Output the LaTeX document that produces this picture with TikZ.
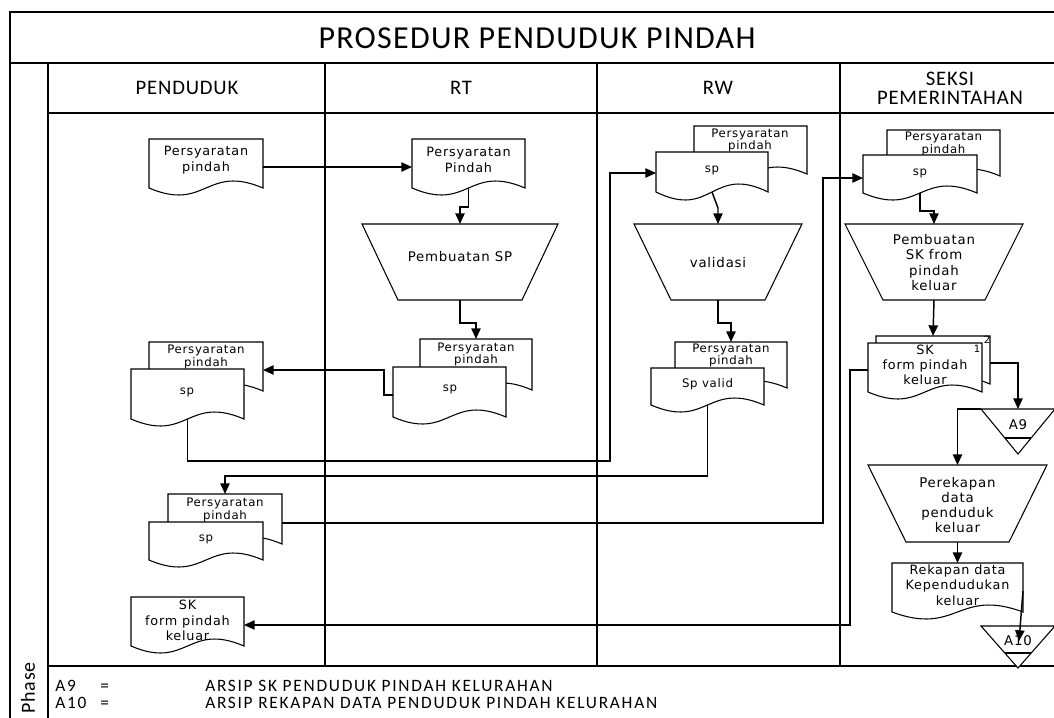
\documentclass[tikz,border=0pt]{standalone}
\usepackage{fontspec}
\setmainfont{Carlito}
\newfontfamily\docfont[LetterSpace=6]{DejaVu Sans}
\newfontfamily\hdrfont[LetterSpace=4]{Carlito}
\newfontfamily\legfont[LetterSpace=10]{Carlito}
\usetikzlibrary{arrows.meta,calc}

% document symbol: name, left, top, right, wave baseline, wave amplitude
\newcommand\docbox[6]{%
  \path[shapeline] (#2,#5) -- (#2,#3) -- (#4,#3) -- (#4,#5)
    .. controls ({(#2+#4)/2},{#5-3.46*#6}) and ({(#2+#4)/2},{#5+3.46*#6}) .. (#2,#5) -- cycle;
  \node[helper, minimum width={(#4-#2)*0.75pt}, minimum height={(#5-#3)*0.75pt}]
    (#1) at ({(#2+#4)/2},{(#3+#5)/2}) {};
}
% manual operation (trapezoid): name, centre x, top, bottom, half top, half bottom
\newcommand\trapbox[6]{%
  \path[shapeline] ({#2-#5},#3) -- ({#2+#5},#3) -- ({#2+#6},#4) -- ({#2-#6},#4) -- cycle;
  \node[helper, minimum width={2*#5*0.75pt}, minimum height={(#4-#3)*0.75pt}]
    (#1) at (#2,{(#3+#4)/2}) {};
}
% off-line storage (inverted triangle with bar): name, centre x, top, apex, half width, bar y
\newcommand\tribox[6]{%
  \path[shapeline] ({#2-#5},#3) -- ({#2+#5},#3) -- (#2,#4) -- cycle;
  \draw[line width=0.8pt] ({#2-#5*(#4-#6)/(#4-#3)},#6) -- ({#2+#5*(#4-#6)/(#4-#3)},#6);
  \node[helper, minimum width={2*#5*0.75pt}, minimum height={(#4-#3)*0.75pt}]
    (#1) at (#2,{(#3+#4)/2}) {};
}

\begin{document}
\begin{tikzpicture}[x=0.75pt,y=-0.75pt,
  shapeline/.style={draw=black, fill=white, line width=0.8pt},
  helper/.style={inner sep=0pt, outer sep=0pt, draw=none},
  frameline/.style={line width=1.2pt},
  flow/.style={line width=1.1pt, -{Triangle[length=8pt,width=7pt]}},
  lbl/.style={align=center, inner sep=0pt, font=\docfont\fontsize{9.6}{11.5}\selectfont},
  slbl/.style={align=center, inner sep=0pt, font=\docfont\fontsize{8.8}{9.6}\selectfont},
  plbl/.style={align=center, inner sep=0pt, font=\docfont\fontsize{10}{11.3}\selectfont},
  tiny/.style={inner sep=0pt, font=\docfont\fontsize{7.5}{8}\selectfont},
  hdr/.style={align=center, inner sep=0pt, font=\hdrfont\fontsize{15.5}{14.5}\selectfont},
  leg/.style={anchor=base west, inner sep=0pt, font=\legfont\fontsize{13}{13}\selectfont}]
\useasboundingbox (0,0) rectangle (1054,718);
\clip (0,0) rectangle (1054,718);
\fill[white] (0,0) rectangle (1054,718);

% swimlane frame
\draw[frameline] (1070,12) -- (10,12) -- (10,730);
\draw[frameline] (10,63) -- (1070,63);
\draw[frameline] (48,63) -- (48,730);
\draw[frameline] (48,113) -- (1070,113);
\draw[frameline] (48,666) -- (1070,666);
\foreach \lx in {325,597,840} \draw[frameline] (\lx,63) -- (\lx,666);

\node[font=\hdrfont\fontsize{24}{26}\selectfont, inner sep=0pt] (title) at (537,38) {PROSEDUR PENDUDUK PINDAH};
\node[hdr] (h1) at (187,88) {PENDUDUK};
\node[hdr] (h2) at (461,88) {RT};
\node[hdr] (h3) at (718,88) {RW};
\node[hdr] (h4) at (950,88) {SEKSI\\PEMERINTAHAN};
\node[rotate=90, inner sep=0pt, font=\hdrfont\fontsize{15}{16}\selectfont] (phase) at (28,688) {Phase};

% legend
\node[leg] (k1) at (55,691) {A9};
\node[leg] (k2) at (55,708) {A10};
\node[leg] (e1) at (100,691) {=};
\node[leg] (e2) at (100,708) {=};
\node[leg] (v1) at (205,691) {ARSIP SK PENDUDUK PINDAH KELURAHAN};
\node[leg] (v2) at (205,708) {ARSIP REKAPAN DATA PENDUDUK PINDAH KELURAHAN};

% PENDUDUK lane
\docbox{d1}{149}{139}{263}{188}{7}
\node[lbl] (d1t) at (206,160) {Persyaratan\\pindah};
\docbox{pb1}{149}{342}{263}{391}{7}
\node[slbl] (pb1t) at (206,357) {Persyaratan\\pindah};
\docbox{pf1}{131}{369}{244}{419}{7}
\node[slbl] (pf1t) at (187,392) {sp};
\docbox{pb2}{168}{494}{282}{544}{7}
\node[slbl] (pb2t) at (225,510) {Persyaratan\\pindah};
\docbox{pf2}{149}{522}{263}{560}{7}
\node[slbl] (pf2t) at (206,539) {sp};
\docbox{psk}{131}{597}{244}{646}{7}
\node[lbl] (pskt) at (187.5,620.5) {SK\\form pindah\\keluar};

% RT lane
\docbox{d2}{412}{139}{525}{188}{7}
\node[lbl] (d2t) at (468.5,160) {Persyaratan\\Pindah};
\trapbox{t1}{460}{224}{300}{98}{62}
\node[plbl] (t1t) at (460,257) {Pembuatan SP};
\docbox{rtb}{420}{339}{532}{390}{7}
\node[slbl] (rtbt) at (476,354.5) {Persyaratan\\pindah};
\docbox{rtf}{393}{367}{506}{417}{7}
\node[slbl] (rtft) at (450,389) {sp};

% RW lane
\docbox{rwb1}{694}{126}{807}{174}{7}
\node[slbl] (rwb1t) at (750,140.5) {Persyaratan\\pindah};
\docbox{rwf1}{656}{152}{768}{192}{8}
\node[slbl] (rwf1t) at (712,170) {sp};
\trapbox{t2}{718}{224}{300}{84}{47}
\node[plbl] (t2t) at (718,263) {validasi};
\docbox{rwb2}{675}{342}{787}{388}{7}
\node[slbl] (rwb2t) at (731,355.5) {Persyaratan\\pindah};
\docbox{rwf2}{651}{368}{764}{405}{7}
\node[slbl] (rwf2t) at (707.5,384) {Sp valid};

% SEKSI PEMERINTAHAN lane
\docbox{skb1}{887}{130}{1000}{176}{7}
\node[slbl] (skb1t) at (943.5,144) {Persyaratan\\pindah};
\docbox{skf1}{863}{155}{977}{193}{7}
\node[slbl] (skf1t) at (920,173) {sp};
\trapbox{t3}{934}{224}{300}{89}{51}
\node[plbl] (t3t) at (934,262.5) {Pembuatan\\SK from\\pindah\\keluar};
\docbox{skb}{876}{336}{990}{384}{7}
\docbox{skf}{868}{343}{982}{392}{7}
\node[lbl] (skft) at (925,365) {SK\\form pindah\\keluar};
\node[tiny] (p1) at (977,349) {1};
\node[tiny] (p2) at (987,340) {2};
\tribox{a9}{1018}{409}{454}{37}{438}
\node[plbl] (a9t) at (1018,425) {A9};
\trapbox{t4}{957.5}{465}{542}{89.5}{51.5}
\node[plbl] (t4t) at (957.5,505) {Perekapan\\data\\penduduk\\keluar};
\docbox{rek}{892}{563}{1023}{612}{7}
\node[lbl] (rekt) at (957.5,585) {Rekapan data\\Kependudukan\\keluar};
\tribox{a10}{1018}{626}{668}{37}{653}
\node[plbl] (a10t) at (1018,641) {A10};

% connectors
\draw[flow] ($(d1.east)+(0,3.5)$) -- ($(d2.west)+(0,3.5)$);
\draw[flow] (d2.south) -- ++(0,19) -| (t1.north);
\draw[flow] (t1.south) -- ++(0,23) -| (rtb.north);
\draw[flow] ($(rtf.west)+(0,3)$) -- ++(-9,0) |- ($(pb1.east)+(0,3.5)$);
\draw[flow] (pf1.south) |- (610,461) |- ($(rwf1.west)+(0,1)$);
\draw[flow] (rwf1.south) -- (718,208) -- (t2.north);
\draw[flow] (t2.south) -- ++(0,23) -| (rwb2.north);
\draw[flow] (rwf2.south) -- ++(0,71) -| (pb2.north);
\draw[flow] ($(pb2.east)+(0,4)$) -- (823,523) |- ($(skf1.west)+(0,4)$);
\draw[flow] (skf1.south) -- ++(0,18) -| (t3.north);
\draw[flow] (t3.south) -- (skb.north);
\draw[flow] ($(skb.east)+(0,3)$) -| (a9.north);
\draw[flow] (a9.north west) -| (t4.north);
\draw[flow] (t4.south) -- (rek.north);
\draw[flow] ($(rek.east)+(0,3.5)$) -- ($(a10.north)+(1,15)$);
\draw[flow] ($(skf.west)+(0,2.5)$) -- ++(-18,0) |- ($(psk.east)+(0,3.5)$);
\end{tikzpicture}
\end{document}
